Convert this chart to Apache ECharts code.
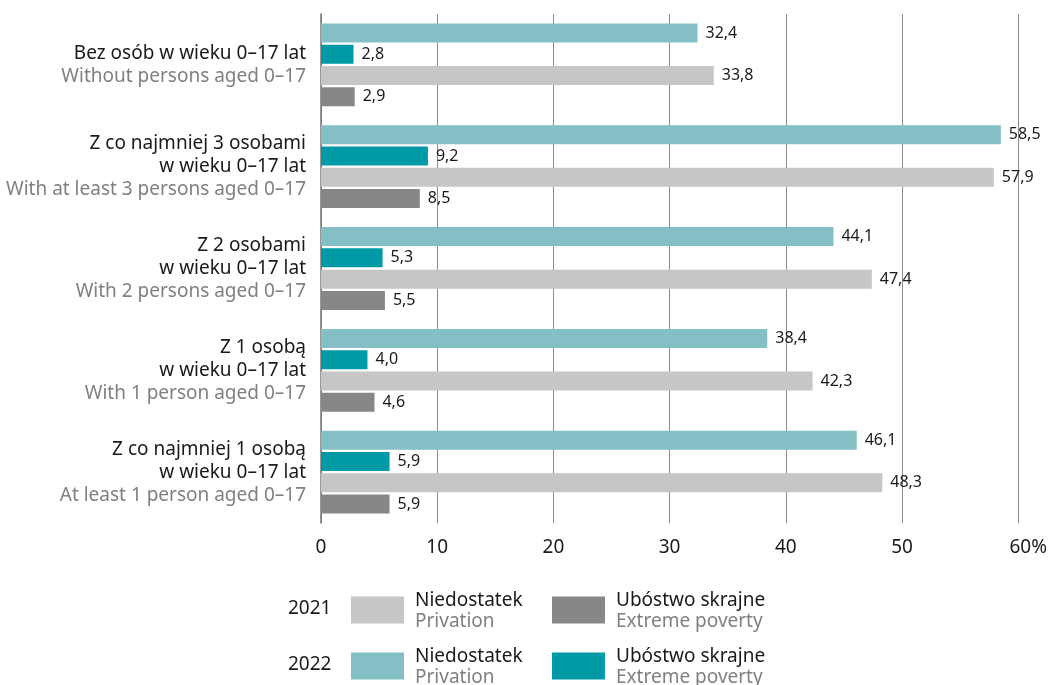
<!DOCTYPE html>
<html>
<head>
<meta charset="utf-8">
<script src="https://cdn.jsdelivr.net/npm/echarts@6/dist/echarts.min.js"></script>
<style>
  html, body { margin: 0; padding: 0; background: #fff; }
  #chart { width: 1050px; height: 685px; }
</style>
</head>
<body>
<div id="chart"></div>
<script>
// kategorie (PL / EN)
const categoriesPl = [
  'Bez osób w wieku 0–17 lat',
  'Z co najmniej 3 osobami\nw wieku 0–17 lat',
  'Z 2 osobami\nw wieku 0–17 lat',
  'Z 1 osobą\nw wieku 0–17 lat',
  'Z co najmniej 1 osobą\nw wieku 0–17 lat'
];
const categoriesEn = [
  'Without persons aged 0–17',
  'With at least 3 persons aged 0–17',
  'With 2 persons aged 0–17',
  'With 1 person aged 0–17',
  'At least 1 person aged 0–17'
];

// wartości w %
const privation2022 = [32.4, 58.5, 44.1, 38.4, 46.1];
const extreme2022 = [2.8, 9.2, 5.3, 4.0, 5.9];
const privation2021 = [33.8, 57.9, 47.4, 42.3, 48.3];
const extreme2021 = [2.9, 8.5, 5.5, 4.6, 5.9];

const xTicks = [0, 10, 20, 30, 40, 50, 60];

const FONT = 'Noto Sans';
const FS = 19;
const colors = {
  p2022: '#85bfc6',
  e2022: '#009aa6',
  p2021: '#c6c6c6',
  e2021: '#878787'
};

const myChart = echarts.init(document.getElementById('chart'));

function barSeries(name, data, color) {
  return {
    name: name,
    type: 'bar',
    data: data,
    barWidth: 19,
    barGap: '12%',
    itemStyle: { color: color },
    label: {
      show: true,
      position: 'right',
      distance: 8,
      fontFamily: FONT,
      fontSize: 16,
      color: '#1a1a1a',
      formatter: p => p.value.toFixed(1).replace('.', ',')
    }
  };
}

function legendItem(name, left, top) {
  return {
    data: [name],
    left: left,
    top: top,
    orient: 'horizontal',
    padding: 0,
    itemWidth: 53,
    itemHeight: 27,
    selectedMode: false,
    icon: 'rect',
    formatter: n => {
      const pl = n.indexOf('Niedostatek') >= 0 ? 'Niedostatek' : 'Ubóstwo skrajne';
      const en = n.indexOf('Niedostatek') >= 0 ? 'Privation' : 'Extreme poverty';
      return '{pl|' + pl + '}\n{en|' + en + '}';
    },
    textStyle: {
      fontFamily: FONT,
      rich: {
        pl: { fontFamily: FONT, fontSize: FS, color: '#1a1a1a', lineHeight: 23, padding: [4, 0, 0, 6] },
        en: { fontFamily: FONT, fontSize: FS, color: '#808080', lineHeight: 23, padding: [0, 0, 0, 6] }
      }
    }
  };
}

const option = {
  animation: false,
  grid: { left: 321, right: 26, top: 14, bottom: 162 },
  xAxis: {
    type: 'value',
    min: 0,
    max: 60,
    interval: 10,
    axisLine: { show: false },
    axisTick: { show: false },
    splitLine: { show: true, lineStyle: { color: '#8c8c8c', width: 1 } },
    axisLabel: {
      margin: 15,
      fontFamily: FONT,
      fontSize: FS,
      color: '#1a1a1a',
      formatter: v => v === xTicks[xTicks.length - 1] ? '{last|' + v + '%}' : String(v),
      rich: {
        last: { fontFamily: FONT, fontSize: FS, color: '#1a1a1a', padding: [0, 0, 0, 20] }
      }
    }
  },
  yAxis: {
    type: 'category',
    inverse: true,
    data: categoriesPl,
    axisLine: { show: true, lineStyle: { color: '#777', width: 1.5 } },
    axisTick: { show: false },
    axisLabel: {
      margin: 15,
      formatter: (v, i) => {
        const lines = v.split('\n').map(l => '{pl|' + l + '}');
        return lines.join('\n') + '\n{en|' + categoriesEn[i] + '}';
      },
      rich: {
        pl: { fontFamily: FONT, fontSize: FS, color: '#1a1a1a', lineHeight: 23, align: 'right' },
        en: { fontFamily: FONT, fontSize: FS, color: '#808080', lineHeight: 23, align: 'right' }
      }
    }
  },
  legend: [
    legendItem('2021 Niedostatek', 351, 587),
    legendItem('2021 Ubóstwo skrajne', 552, 587),
    legendItem('2022 Niedostatek', 351, 643),
    legendItem('2022 Ubóstwo skrajne', 552, 643)
  ],
  graphic: [
    {
      type: 'text', left: 288, top: 599,
      style: { text: '2021', fontFamily: FONT, fontSize: FS, fill: '#1a1a1a' }
    },
    {
      type: 'text', left: 288, top: 655,
      style: { text: '2022', fontFamily: FONT, fontSize: FS, fill: '#1a1a1a' }
    }
  ],
  series: [
    barSeries('2022 Niedostatek', privation2022, colors.p2022),
    barSeries('2022 Ubóstwo skrajne', extreme2022, colors.e2022),
    barSeries('2021 Niedostatek', privation2021, colors.p2021),
    barSeries('2021 Ubóstwo skrajne', extreme2021, colors.e2021)
  ]
};

myChart.setOption(option);
</script>
</body>
</html>
